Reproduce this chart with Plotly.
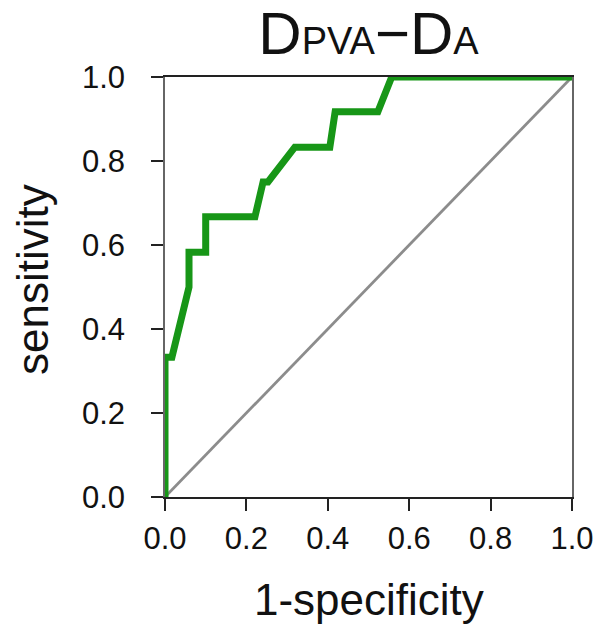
import plotly.graph_objects as go

# ROC curve points
fpr = [0.0, 0.0, 0.017, 0.059, 0.059, 0.100, 0.100, 0.221, 0.241, 0.253, 0.319, 0.405, 0.418, 0.523, 0.557, 1.0]
tpr = [0.0, 0.333, 0.333, 0.500, 0.583, 0.583, 0.667, 0.667, 0.750, 0.750, 0.833, 0.833, 0.917, 0.917, 1.0, 1.0]
diag_x = [0.0, 1.0]
diag_y = [0.0, 1.0]
tick_vals = [0.0, 0.2, 0.4, 0.6, 0.8, 1.0]
tick_text = ["0.0", "0.2", "0.4", "0.6", "0.8", "1.0"]
x_title = "1-specificity"
y_title = "sensitivity"
chart_title = "D<span style='font-size:38px'>PVA</span>−D<span style='font-size:38px'>A</span>"

FONT = "Liberation Sans, Arial, sans-serif"
INK = "#111"

fig = go.Figure()
fig.add_trace(go.Scatter(x=diag_x, y=diag_y, mode="lines",
                         line=dict(color="#8c8c8c", width=2.8), showlegend=False))
fig.add_trace(go.Scatter(x=fpr, y=tpr, mode="lines",
                         line=dict(color="#179617", width=7), showlegend=False))

fig.update_layout(
    width=595, height=630,
    margin=dict(l=165, r=23, t=77, b=133),
    paper_bgcolor="white", plot_bgcolor="white",
    font=dict(family=FONT, color=INK),
    title=dict(
        text=chart_title,
        font=dict(size=60, family=FONT, color=INK),
        x=0.5, xanchor="center", xref="paper",
        y=0.948, yanchor="middle", yref="container",
    ),
    xaxis=dict(
        range=[0, 1], tickvals=tick_vals, ticktext=tick_text,
        showgrid=False, zeroline=False, automargin=False,
        showline=True, mirror=True, linecolor="#222", linewidth=1.5,
        ticks="outside", ticklen=12, tickwidth=1.5, tickcolor="#222",
        tickfont=dict(size=31, family=FONT, color=INK),
        ticklabelstandoff=1, ticklabeloverflow="allow",
    ),
    yaxis=dict(
        range=[0, 1], tickvals=tick_vals, ticktext=tick_text,
        showgrid=False, zeroline=False, automargin=False,
        showline=True, mirror=True, linecolor="#666", linewidth=1.5,
        ticks="outside", ticklen=12, tickwidth=1.5, tickcolor="#222",
        tickfont=dict(size=31, family=FONT, color=INK),
        ticklabelstandoff=20,
    ),
    annotations=[
        dict(text=x_title, xref="paper", yref="paper", x=0.5, y=-0.245,
             xanchor="center", yanchor="middle", showarrow=False,
             font=dict(size=44, family=FONT, color=INK)),
        dict(text=y_title, xref="paper", yref="paper", x=-0.327, y=0.519,
             xanchor="center", yanchor="middle", showarrow=False, textangle=-90,
             font=dict(size=44, family=FONT, color=INK)),
    ],
)

fig.write_html("out.html")
